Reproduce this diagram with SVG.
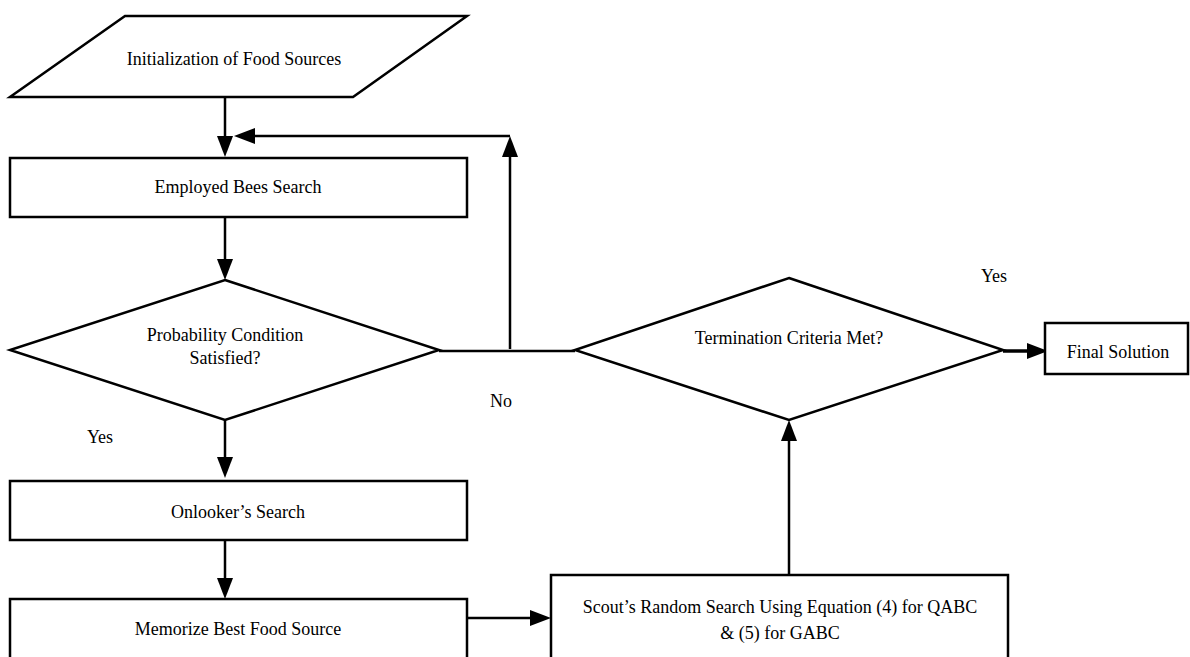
<svg xmlns="http://www.w3.org/2000/svg" width="1190" height="657" viewBox="0 0 1190 657">
<style>
.shape{fill:#fff;stroke:#000;stroke-width:2.5}
.conn{fill:none;stroke:#000;stroke-width:2.5}
.thick{stroke-width:3.5}
text{font-family:"Liberation Serif","Times New Roman",serif;font-size:18px;fill:#000;text-anchor:middle}
</style>
<defs>
<marker id="ah" markerUnits="userSpaceOnUse" markerWidth="22" markerHeight="18" refX="0" refY="8" orient="auto" overflow="visible">
<path d="M0,0 L21,8 L0,16 z" fill="#000"/>
</marker>
</defs>
<rect width="1190" height="657" fill="#fff"/>
<g id="connectors">
<path class="conn" d="M225,97 V136" marker-end="url(#ah)"/>
<path class="conn" d="M225,217 V259" marker-end="url(#ah)"/>
<path class="conn" d="M225,420 V457" marker-end="url(#ah)"/>
<path class="conn" d="M225,540 V578" marker-end="url(#ah)"/>
<path class="conn" d="M467,618 H530" marker-end="url(#ah)"/>
<path class="conn" d="M789,575 V441" marker-end="url(#ah)"/>
<path class="conn thick" d="M1003,351 H1027" marker-end="url(#ah)"/>
<path class="conn" d="M439,351 H575"/>
<path class="conn" d="M510,349 V157" marker-end="url(#ah)"/>
<path class="conn" d="M510,136 H255" marker-end="url(#ah)"/>
</g>
<g id="init">
<polygon class="shape" points="125,16 467,16 353,97 10,97"/>
<text x="234" y="65">Initialization of Food Sources</text>
</g>
<g id="employed">
<rect class="shape" x="10" y="158" width="457" height="59"/>
<text x="238" y="193">Employed Bees Search</text>
</g>
<g id="probability">
<polygon class="shape" points="225,280 439,350 225,420 10,350"/>
<text x="225" y="341">Probability Condition</text>
<text x="225" y="364">Satisfied?</text>
</g>
<g id="onlooker">
<rect class="shape" x="10" y="481" width="457" height="59"/>
<text x="238" y="518">Onlooker’s Search</text>
</g>
<g id="memorize">
<rect class="shape" x="10" y="599" width="457" height="80"/>
<text x="238" y="635">Memorize Best Food Source</text>
</g>
<g id="scout">
<rect class="shape" x="551" y="575" width="457" height="100"/>
<text x="780" y="613">Scout’s Random Search Using Equation (4) for QABC</text>
<text x="780" y="639">&amp; (5) for GABC</text>
</g>
<g id="termination">
<polygon class="shape" points="789,278 1003,350 789,420 575,350"/>
<text x="789" y="344">Termination Criteria Met?</text>
</g>
<g id="final">
<rect class="shape" x="1045" y="323" width="143" height="51"/>
<text x="1118" y="358">Final Solution</text>
</g>
<g id="labels">
<text x="100" y="443">Yes</text>
<text x="501" y="407">No</text>
<text x="994" y="282">Yes</text>
</g>
</svg>
